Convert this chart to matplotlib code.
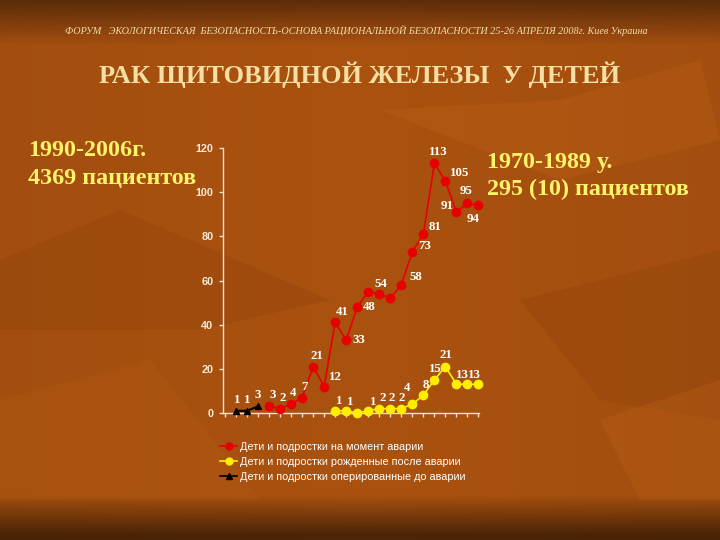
import numpy as np
import matplotlib.pyplot as plt
from matplotlib.patches import Polygon
from matplotlib.lines import Line2D

# данные (по графику)
black_x = [0, 1, 2]
black_y = [1, 1, 3]
red_x = list(range(3, 23))
red_y = [3, 2, 4, 7, 21, 12, 41, 33, 48, 55, 54, 52, 58, 73, 81, 113, 105, 91, 95, 94]
yellow_x = list(range(9, 23))
yellow_y = [1, 1, 0, 1, 2, 2, 2, 4, 8, 15, 21, 13, 13, 13]
y_ticks = [0, 20, 40, 60, 80, 100, 120]

legend_labels = ['Дети и подростки на момент аварии',
                 'Дети и подростки рожденные после аварии',
                 'Дети и подростки оперированные до аварии']

# смещения подписей в пикселях (dx, вверх), None - без подписи
black_off = [(1, 11), (0, 11), (0, 11)]
red_off = [(4, 11), (3, 11), (2, 11), (2, 11), (4, 11), (11, 9), (7, 10), (13, 0), (12, 0),
           None, (2, 10), None, (15, 8), (12, 6), (12, 7), (4, 11), (14, 8), (-9, 6), (-1, 12), (-5, -14)]
yellow_off = [(4, 10), (4, 9), None, (5, 9), (3, 11), (1, 11), (0, 11), (-5, 16), (2, 10), (1, 11),
              (1, 12), (6, 9), (7, 9), None]

W, H = 720, 540
fig = plt.figure(figsize=(7.2, 5.4), dpi=100)

# фон слайда
bg = fig.add_axes([0, 0, 1, 1])
yy = np.linspace(0, 1, H)[:, None]
xx = np.linspace(0, 1, W)[None, :]
base = np.array([170, 82, 16]) / 255
img = np.ones((H, W, 3)) * base
top = np.clip((yy * H) / 45, 0, 1)
bot = np.clip((H - yy * H - 5) / 40, 0, 1)
shade = 0.55 + 0.45 * top
shade = shade * (0.45 + 0.55 * bot)
shade = shade * (1.0 - 0.08 * np.abs(xx - 0.5))
img = img * shade[..., None]
bg.imshow(img, extent=[0, W, H, 0], aspect='auto')
leaves = [
    ([(0, 260), (120, 210), (330, 300), (200, 330), (0, 330)], '#8f400a', 0.3),
    ([(380, 110), (560, 100), (700, 60), (720, 140), (560, 180)], '#c86a1c', 0.22),
    ([(520, 300), (720, 250), (720, 420), (600, 400)], '#8a3c08', 0.25),
    ([(0, 400), (150, 360), (260, 500), (0, 500)], '#c0651a', 0.18),
    ([(600, 420), (720, 380), (720, 500), (640, 500)], '#c66a1e', 0.22),
]
for pts, c, a in leaves:
    bg.add_patch(Polygon(pts, closed=True, color=c, alpha=a, lw=0))
bg.set_xlim(0, W)
bg.set_ylim(H, 0)
bg.axis('off')

# тексты слайда
fig.text(0.5 - 4 / W, 1 - 31 / H, 'ФОРУМ   ЭКОЛОГИЧЕСКАЯ  БЕЗОПАСНОСТЬ-ОСНОВА РАЦИОНАЛЬНОЙ БЕЗОПАСНОСТИ 25-26 АПРЕЛЯ 2008г. Киев Украина',
         ha='center', va='center', fontsize=7.3, style='italic', family='Liberation Serif', color='#f2dcaa')
fig.text(360 / W, 1 - 83 / H, 'РАК ЩИТОВИДНОЙ ЖЕЛЕЗЫ  У ДЕТЕЙ', ha='center', va='baseline',
         fontsize=19, fontweight='bold', family='Liberation Serif', color='#f6dfa2')
yel = '#fff36a'
fig.text(28 / W, 1 - 156 / H, '1990-2006г.', va='baseline', fontsize=17.3, fontweight='bold',
         family='Liberation Serif', color=yel)
fig.text(28 / W, 1 - 184 / H, '4369 пациентов', va='baseline', fontsize=17.3, fontweight='bold',
         family='Liberation Serif', color=yel)
fig.text(487 / W, 1 - 168 / H, '1970-1989 у.', va='baseline', fontsize=17.3, fontweight='bold',
         family='Liberation Serif', color=yel)
fig.text(487 / W, 1 - 195 / H, '295 (10) пациентов', va='baseline', fontsize=17.3, fontweight='bold',
         family='Liberation Serif', color=yel)

# график
ax = fig.add_axes([223 / W, 1 - 413 / H, (479 - 223) / W, (413 - 148) / H])
ax.patch.set_alpha(0)
ax.plot(black_x, black_y, color='black', lw=1.5, marker='^', ms=4, clip_on=False, zorder=3)
ax.plot(red_x, red_y, color='#e80000', lw=1.2, marker='o', ms=6, clip_on=False, zorder=3)
ax.plot(yellow_x, yellow_y, color='#ffee00', lw=1.2, marker='o', ms=6, clip_on=False, zorder=3)

def put_labels(xs, ys, offs):
    for x, y, o in zip(xs, ys, offs):
        if o is None:
            continue
        ax.annotate(str(y), (x, y), xytext=(o[0] * 0.72, o[1] * 0.72), textcoords='offset points',
                    ha='center', va='center', fontsize=9.3, fontweight='bold',
                    family='Liberation Serif', color='white', annotation_clip=False)

put_labels(black_x, black_y, black_off)
put_labels(red_x, red_y, red_off)
put_labels(yellow_x, yellow_y, yellow_off)

ax.set_ylim(0, 120)
ax.set_xlim(-1.18, 22.05)
ax.set_yticks(y_ticks)
ax.set_xticks(range(-1, 23))
ax.set_xticklabels([])
for s in ['top', 'right']:
    ax.spines[s].set_visible(False)
for s in ['left', 'bottom']:
    ax.spines[s].set_color('#f3e2c8')
    ax.spines[s].set_linewidth(1)
ax.tick_params(axis='both', colors='#f3e2c8', length=3, width=1)
ax.tick_params(axis='y', labelsize=7.8, labelcolor='#f6ead8', pad=4)
for t in ax.get_yticklabels():
    t.set_fontweight('bold')
    t.set_family('Liberation Sans')

# легенда
handles = [Line2D([], [], color='#e80000', marker='o', ms=5, lw=1.2),
           Line2D([], [], color='#ffee00', marker='o', ms=5, lw=1.2),
           Line2D([], [], color='black', marker='^', ms=4, lw=1.2)]
fig.legend(handles, legend_labels, loc='upper left', bbox_to_anchor=(220 / W, 1 - 442 / H),
           frameon=False, labelcolor='white', handlelength=1.6, handletextpad=0.2,
           labelspacing=0.45, borderpad=0, borderaxespad=0, prop={'family': 'Liberation Sans', 'size': 7.8})

fig.savefig('out.png', dpi=100)
